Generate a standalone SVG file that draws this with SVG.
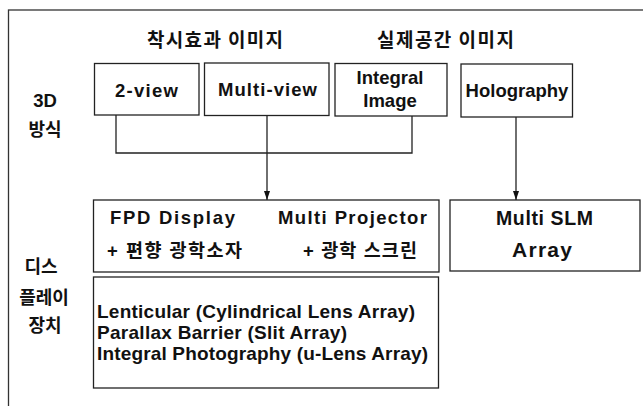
<svg xmlns="http://www.w3.org/2000/svg" width="643" height="406" viewBox="0 0 643 406">
<defs>
<style>
.box{fill:#fff;stroke:#222;stroke-width:1.3}
.t{font-family:"Liberation Sans","Noto Sans CJK KR",sans-serif;font-weight:bold;font-size:18.5px;fill:#111}
.k{font-family:"Noto Sans CJK KR","Liberation Sans",sans-serif;font-weight:bold;font-size:18px;fill:#111}
.c{text-anchor:middle}
.ln{fill:none;stroke:#222;stroke-width:1.3}
</style>
<marker id="ah" viewBox="0 0 9 6" refX="9" refY="3" markerWidth="9" markerHeight="6" markerUnits="userSpaceOnUse" orient="auto">
<path d="M0 0 L9 3 L0 6 Z" fill="#111"/>
</marker>
</defs>
<rect x="0" y="0" width="643" height="406" fill="#fff"/>
<rect x="8.5" y="10" width="700" height="500" fill="none" stroke="#333" stroke-width="1.3"/>

<g id="titles">
<text class="k" x="147" y="47" style="font-size:19px" textLength="136">착시효과 이미지</text>
<text class="k" x="377" y="47" style="font-size:19px" textLength="137">실제공간 이미지</text>
</g>
<g id="row-labels">
<text class="t c" x="45" y="107">3D</text>
<text class="k c" x="45" y="136">방식</text>
<text class="k c" x="41" y="273">디스</text>
<text class="k c" x="44" y="304">플레이</text>
<text class="k c" x="45" y="332">장치</text>
</g>

<g id="connectors">
<path class="ln" d="M116 115 V153 H412 V116"/>
<path class="ln" d="M267 115 V200" marker-end="url(#ah)"/>
<path class="ln" d="M516 117 V200" marker-end="url(#ah)"/>
</g>

<g id="n-2view">
<rect class="box" x="94.5" y="63.5" width="104.5" height="51.5"/>
<text class="t" x="115" y="97" textLength="63">2-view</text>
</g>
<g id="n-multiview">
<rect class="box" x="204.5" y="63" width="124.5" height="52.5"/>
<text class="t" x="218" y="96" textLength="99">Multi-view</text>
</g>
<g id="n-integral">
<rect class="box" x="335" y="63.5" width="112" height="52.5"/>
<text class="t c" x="390" y="84">Integral</text>
<text class="t c" x="390" y="107">Image</text>
</g>
<g id="n-holography">
<rect class="box" x="461" y="64" width="111.5" height="53"/>
<text class="t c" x="517" y="97">Holography</text>
</g>

<g id="n-fpd">
<rect class="box" x="93.5" y="200" width="345.5" height="72"/>
<text class="t" x="110" y="224" textLength="125">FPD Display</text>
<text class="t" x="107" y="257" textLength="135">+ 편향 광학소자</text>
<text class="t" x="278" y="224" textLength="149">Multi Projector</text>
<text class="t" x="303" y="257" textLength="114">+ 광학 스크린</text>
</g>
<g id="n-slm">
<rect class="box" x="450" y="200" width="190" height="71"/>
<text class="t" x="496" y="225" style="font-size:19.5px" textLength="97">Multi SLM</text>
<text class="t" x="512" y="257" style="font-size:21px" textLength="60">Array</text>
</g>
<g id="n-lenticular">
<rect class="box" x="93.5" y="277" width="345" height="111"/>
<text class="t" x="97" y="318" style="font-size:19px" textLength="318">Lenticular (Cylindrical Lens Array)</text>
<text class="t" x="97" y="339" style="font-size:19px" textLength="250">Parallax Barrier (Slit Array)</text>
<text class="t" x="97" y="360" style="font-size:19px" textLength="331">Integral Photography (u-Lens Array)</text>
</g>
</svg>
